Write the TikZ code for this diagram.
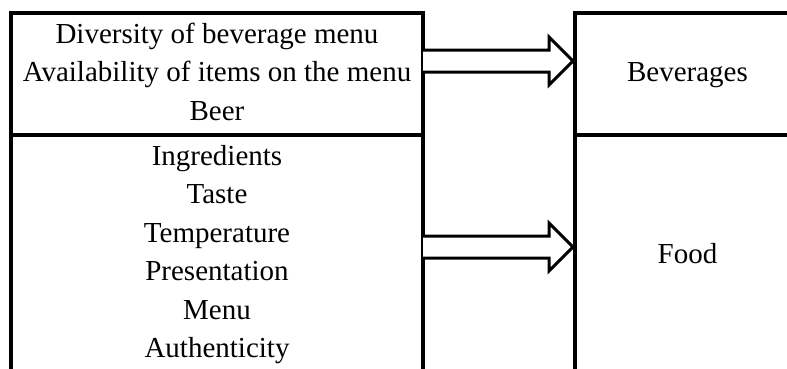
\documentclass[tikz,border=0pt]{standalone}
\usepackage{fontspec}
\setmainfont{Liberation Serif}
\usetikzlibrary{calc}
\tikzset{
  box/.style={draw=black, line width=3.5pt, rectangle, inner sep=0pt, outer sep=0pt},
  txt/.style={font=\fontsize{29}{38.5}\selectfont, align=center, inner sep=0pt, anchor=base},
  blockarrow/.style={draw=black, line width=3pt, fill=white, line join=miter}
}
\begin{document}
\begin{tikzpicture}[x=1pt,y=-1pt]
\useasboundingbox (0,0) rectangle (787,368);
\clip (0,0) rectangle (787,368);
% boxes
\node[box, minimum width=412pt, minimum height=122pt] (bevf) at (217,74) {};
\node[box, minimum width=412pt, minimum height=250pt, anchor=north] (foodf) at (217,135) {};
\node[box, minimum width=225pt, minimum height=122pt] (bev) at (687.5,74) {};
\node[box, minimum width=225pt, minimum height=250pt, anchor=north] (food) at (687.5,135) {};
% texts (anchored at the baseline of the last line)
\node[txt] (bevt) at (217,120) {Diversity of beverage menu\\Availability of items on the menu\\Beer};
\node[txt] (foodt) at (217,357.5) {Ingredients\\Taste\\Temperature\\Presentation\\Menu\\Authenticity};
\node[txt] (bevl) at (687.5,81) {Beverages};
\node[txt] (foodl) at (687.5,263) {Food};
% block arrows
\coordinate (s1) at ($(bevf.north east)+(0,48)$);
\coordinate (e1) at ($(bev.north west)+(-2,48)$);
\coordinate (s2) at ($(foodf.north east)+(0,112)$);
\coordinate (e2) at ($(food.north west)+(-2,112)$);
\draw[blockarrow] ($(s1)+(0,-11)$) -- ($(e1)+(-24,-11)$) -- ($(e1)+(-24,-24)$) -- (e1)
  -- ($(e1)+(-24,24)$) -- ($(e1)+(-24,11)$) -- ($(s1)+(0,11)$);
\draw[blockarrow] ($(s2)+(0,-11)$) -- ($(e2)+(-24,-11)$) -- ($(e2)+(-24,-24)$) -- (e2)
  -- ($(e2)+(-24,24)$) -- ($(e2)+(-24,11)$) -- ($(s2)+(0,11)$);
\end{tikzpicture}
\end{document}
